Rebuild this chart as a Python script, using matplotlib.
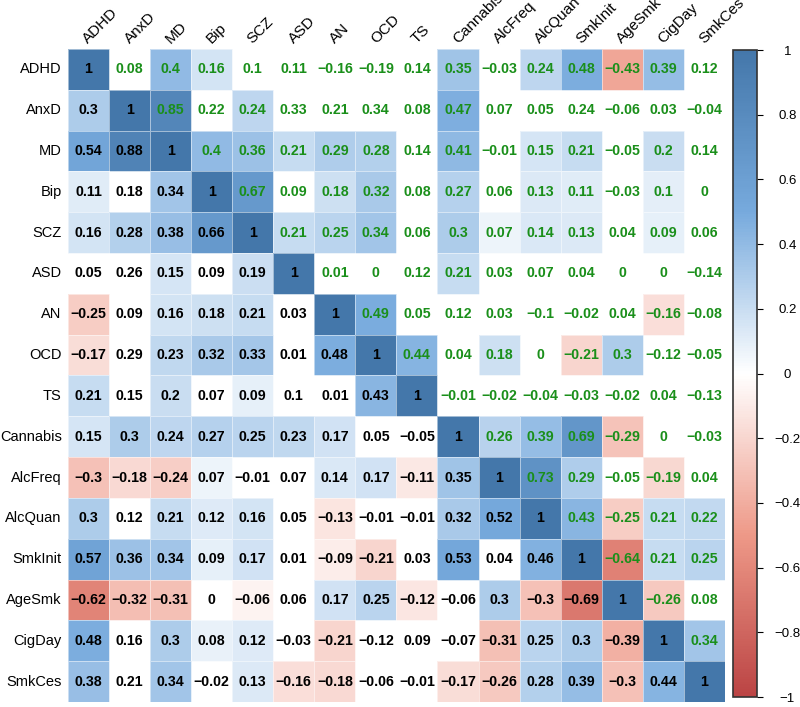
import numpy as np
import matplotlib
matplotlib.use("Agg")
import matplotlib.pyplot as plt
from matplotlib.colors import LinearSegmentedColormap, Normalize
from matplotlib.cm import ScalarMappable

plt.rcParams['font.family'] = ['Liberation Sans', 'DejaVu Sans']

traits = ['ADHD', 'AnxD', 'MD', 'Bip', 'SCZ', 'ASD', 'AN', 'OCD', 'TS',
          'Cannabis', 'AlcFreq', 'AlcQuan', 'SmkInit', 'AgeSmk', 'CigDay', 'SmkCes']

# correlation values, row by row (lower = black, upper = green)
corr = [
    [1, 0.08, 0.4, 0.16, 0.1, 0.11, -0.16, -0.19, 0.14, 0.35, -0.03, 0.24, 0.48, -0.43, 0.39, 0.12],
    [0.3, 1, 0.85, 0.22, 0.24, 0.33, 0.21, 0.34, 0.08, 0.47, 0.07, 0.05, 0.24, -0.06, 0.03, -0.04],
    [0.54, 0.88, 1, 0.4, 0.36, 0.21, 0.29, 0.28, 0.14, 0.41, -0.01, 0.15, 0.21, -0.05, 0.2, 0.14],
    [0.11, 0.18, 0.34, 1, 0.67, 0.09, 0.18, 0.32, 0.08, 0.27, 0.06, 0.13, 0.11, -0.03, 0.1, 0],
    [0.16, 0.28, 0.38, 0.66, 1, 0.21, 0.25, 0.34, 0.06, 0.3, 0.07, 0.14, 0.13, 0.04, 0.09, 0.06],
    [0.05, 0.26, 0.15, 0.09, 0.19, 1, 0.01, 0, 0.12, 0.21, 0.03, 0.07, 0.04, 0, 0, -0.14],
    [-0.25, 0.09, 0.16, 0.18, 0.21, 0.03, 1, 0.49, 0.05, 0.12, 0.03, -0.1, -0.02, 0.04, -0.16, -0.08],
    [-0.17, 0.29, 0.23, 0.32, 0.33, 0.01, 0.48, 1, 0.44, 0.04, 0.18, 0, -0.21, 0.3, -0.12, -0.05],
    [0.21, 0.15, 0.2, 0.07, 0.09, 0.1, 0.01, 0.43, 1, -0.01, -0.02, -0.04, -0.03, -0.02, 0.04, -0.13],
    [0.15, 0.3, 0.24, 0.27, 0.25, 0.23, 0.17, 0.05, -0.05, 1, 0.26, 0.39, 0.69, -0.29, 0, -0.03],
    [-0.3, -0.18, -0.24, 0.07, -0.01, 0.07, 0.14, 0.17, -0.11, 0.35, 1, 0.73, 0.29, -0.05, -0.19, 0.04],
    [0.3, 0.12, 0.21, 0.12, 0.16, 0.05, -0.13, -0.01, -0.01, 0.32, 0.52, 1, 0.43, -0.25, 0.21, 0.22],
    [0.57, 0.36, 0.34, 0.09, 0.17, 0.01, -0.09, -0.21, 0.03, 0.53, 0.04, 0.46, 1, -0.64, 0.21, 0.25],
    [-0.62, -0.32, -0.31, 0, -0.06, 0.06, 0.17, 0.25, -0.12, -0.06, 0.3, -0.3, -0.69, 1, -0.26, 0.08],
    [0.48, 0.16, 0.3, 0.08, 0.12, -0.03, -0.21, -0.12, 0.09, -0.07, -0.31, 0.25, 0.3, -0.39, 1, 0.34],
    [0.38, 0.21, 0.34, -0.02, 0.13, -0.16, -0.18, -0.06, -0.01, -0.17, -0.26, 0.28, 0.39, -0.3, 0.44, 1],
]

# 1 = significant (cell coloured), 0 = left blank
sig = [
    "1011000001011110",
    "1110100001000000",
    "1111111101011010",
    "1011101101011010",
    "1111111101111010",
    "0010110001000000",
    "1011101100000010",
    "1011101110101100",
    "1010100110000000",
    "1111111001111100",
    "1111001111111010",
    "1011101001111111",
    "1111101101011111",
    "1110101110111110",
    "1011101000111111",
    "1010111001111111",
]

corr = np.array(corr, dtype=float)
mask = np.array([[c == '1' for c in row] for row in sig])
n = len(traits)

cmap = LinearSegmentedColormap.from_list(
    "corr", ["#BB4444", "#EE9988", "#FFFFFF", "#77AADD", "#4477AA"])
norm = Normalize(-1, 1)


def fmt(v):
    v = round(float(v), 2) + 0.0
    if v == 0:
        return "0"
    return f"{v:g}".replace('-', '\u2212')


fig = plt.figure(figsize=(8, 7.07), dpi=100)
ax = fig.add_axes([0.085, 0.0071, 0.821, 0.9236])

shown = np.ma.masked_where(~mask, corr)
ax.pcolormesh(np.arange(n + 1), np.arange(n + 1), shown, cmap=cmap, norm=norm,
              edgecolors=(1, 1, 1, 0.5), linewidth=0.5)
ax.set_xlim(0, n)
ax.set_ylim(n, 0)

green = '#1A8F1A'
for i in range(n):
    for j in range(n):
        col = green if j > i else 'black'
        ax.text(j + 0.5, i + 0.5, fmt(corr[i, j]), ha='center', va='center',
                fontsize=10.2, fontweight='bold', color=col)

for s in ax.spines.values():
    s.set_visible(False)
ax.set_xticks([])
ax.set_yticks([])

for i, t in enumerate(traits):
    ax.text(-0.15, i + 0.5, t, ha='right', va='center', fontsize=10.5)
    ax.text(i + 0.55, -0.08, t, ha='left', va='bottom', fontsize=11,
            rotation=45, rotation_mode='anchor')

cax = fig.add_axes([0.916, 0.0141, 0.030, 0.9151])
cb = fig.colorbar(ScalarMappable(norm=norm, cmap=cmap), cax=cax)
cb.set_ticks(np.round(np.arange(-1, 1.01, 0.2), 1))
cb.ax.yaxis.set_major_formatter(matplotlib.ticker.FuncFormatter(lambda x, p: fmt(x)))
cb.ax.tick_params(labelsize=9.5, length=4, width=0.8, pad=18)
for lab in cb.ax.get_yticklabels():
    lab.set_horizontalalignment('center')
cb.outline.set_edgecolor('#333333')
cb.outline.set_linewidth(1.2)

fig.savefig("out.png", dpi=100)
